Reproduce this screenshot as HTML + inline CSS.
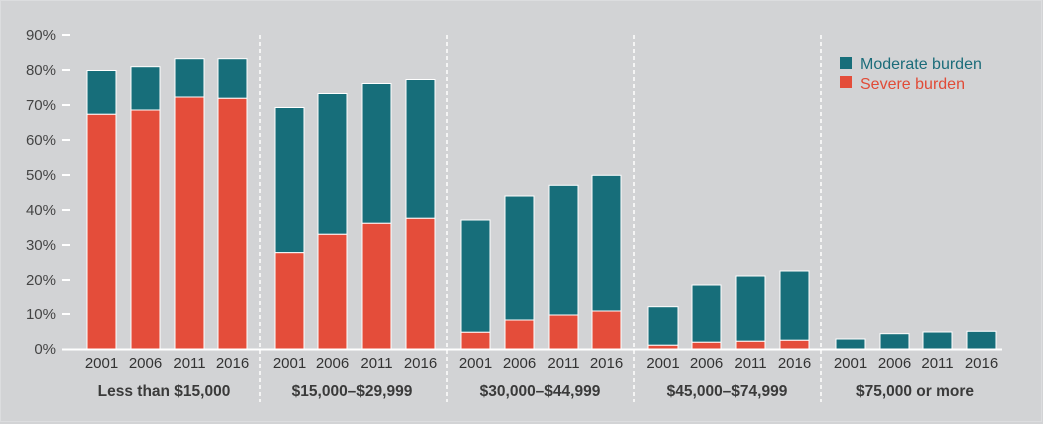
<!DOCTYPE html>
<html>
<head>
<meta charset="utf-8">
<style>
html,body{margin:0;padding:0;background:#d2d3d5;}
svg{display:block;}
text{font-family:"Liberation Sans",sans-serif;}
</style>
</head>
<body>
<svg width="1043" height="424" viewBox="0 0 1043 424" xmlns="http://www.w3.org/2000/svg">
<rect x="0" y="0" width="1043" height="424" fill="#d2d3d5"/>
<rect x="0.5" y="0.5" width="1041" height="421" fill="none" stroke="#dcdddf" stroke-width="1"/>

<!-- y axis labels -->
<g font-size="15" fill="#444" text-anchor="end">
<text x="56" y="40">90%</text>
<text x="56" y="75">80%</text>
<text x="56" y="110">70%</text>
<text x="56" y="145">60%</text>
<text x="56" y="180">50%</text>
<text x="56" y="215">40%</text>
<text x="56" y="250">30%</text>
<text x="56" y="285">20%</text>
<text x="56" y="319">10%</text>
<text x="56" y="354">0%</text>
</g>
<g stroke="#fff" stroke-width="2">
<line x1="62" y1="35" x2="70" y2="35"/>
<line x1="62" y1="70" x2="70" y2="70"/>
<line x1="62" y1="105" x2="70" y2="105"/>
<line x1="62" y1="140" x2="70" y2="140"/>
<line x1="62" y1="175" x2="70" y2="175"/>
<line x1="62" y1="210" x2="70" y2="210"/>
<line x1="62" y1="245" x2="70" y2="245"/>
<line x1="62" y1="280" x2="70" y2="280"/>
<line x1="62" y1="314" x2="70" y2="314"/>
</g>

<!-- dividers -->
<g stroke="#fff" stroke-width="1.5" stroke-dasharray="4,3">
<line x1="260" y1="35" x2="260" y2="402"/>
<line x1="447" y1="35" x2="447" y2="402"/>
<line x1="634" y1="35" x2="634" y2="402"/>
<line x1="821" y1="35" x2="821" y2="402"/>
</g>

<!-- bars -->
<g stroke="#fff" stroke-width="1">
<rect x="87" y="70.5" width="29" height="43.8" fill="#176e7a"/>
<rect x="87" y="114.3" width="29" height="234.7" fill="#e44d3a"/>
<rect x="131" y="66.7" width="29" height="43.3" fill="#176e7a"/>
<rect x="131" y="110" width="29" height="239" fill="#e44d3a"/>
<rect x="175" y="58.7" width="29" height="38.3" fill="#176e7a"/>
<rect x="175" y="97" width="29" height="252" fill="#e44d3a"/>
<rect x="218" y="58.7" width="29" height="39.6" fill="#176e7a"/>
<rect x="218" y="98.3" width="29" height="250.7" fill="#e44d3a"/>

<rect x="275" y="107.5" width="29" height="145.2" fill="#176e7a"/>
<rect x="275" y="252.7" width="29" height="96.3" fill="#e44d3a"/>
<rect x="318" y="93.5" width="29" height="140.8" fill="#176e7a"/>
<rect x="318" y="234.3" width="29" height="114.7" fill="#e44d3a"/>
<rect x="362" y="83.5" width="29" height="139.8" fill="#176e7a"/>
<rect x="362" y="223.3" width="29" height="125.7" fill="#e44d3a"/>
<rect x="406" y="79.5" width="29" height="138.8" fill="#176e7a"/>
<rect x="406" y="218.3" width="29" height="130.7" fill="#e44d3a"/>

<rect x="461" y="220" width="29" height="112.3" fill="#176e7a"/>
<rect x="461" y="332.3" width="29" height="16.7" fill="#e44d3a"/>
<rect x="505" y="196" width="29" height="124" fill="#176e7a"/>
<rect x="505" y="320" width="29" height="29" fill="#e44d3a"/>
<rect x="549" y="185.3" width="29" height="129.7" fill="#176e7a"/>
<rect x="549" y="315" width="29" height="34" fill="#e44d3a"/>
<rect x="592" y="175.3" width="29" height="135.7" fill="#176e7a"/>
<rect x="592" y="311" width="29" height="38" fill="#e44d3a"/>

<rect x="648" y="306.7" width="30" height="38.6" fill="#176e7a"/>
<rect x="648" y="345.3" width="30" height="3.7" fill="#e44d3a"/>
<rect x="692" y="285" width="29" height="57.3" fill="#176e7a"/>
<rect x="692" y="342.3" width="29" height="6.7" fill="#e44d3a"/>
<rect x="736" y="276" width="29" height="65.3" fill="#176e7a"/>
<rect x="736" y="341.3" width="29" height="7.7" fill="#e44d3a"/>
<rect x="780" y="271" width="29" height="69.3" fill="#176e7a"/>
<rect x="780" y="340.3" width="29" height="8.7" fill="#e44d3a"/>

<rect x="836" y="339" width="29" height="10" fill="#176e7a"/>
<rect x="880" y="333.7" width="29" height="15.3" fill="#176e7a"/>
<rect x="923" y="332" width="29" height="17" fill="#176e7a"/>
<rect x="967" y="331.3" width="29" height="17.7" fill="#176e7a"/>
</g>

<!-- axis line -->
<line x1="62" y1="349.5" x2="1002" y2="349.5" stroke="#fff" stroke-width="2"/>

<!-- year labels -->
<g font-size="15" fill="#333" text-anchor="middle">
<text x="101.5" y="368">2001</text>
<text x="145.5" y="368">2006</text>
<text x="189.5" y="368">2011</text>
<text x="232.5" y="368">2016</text>
<text x="289.5" y="368">2001</text>
<text x="332.5" y="368">2006</text>
<text x="376.5" y="368">2011</text>
<text x="420.5" y="368">2016</text>
<text x="475.5" y="368">2001</text>
<text x="519.5" y="368">2006</text>
<text x="563.5" y="368">2011</text>
<text x="606.5" y="368">2016</text>
<text x="663" y="368">2001</text>
<text x="706.5" y="368">2006</text>
<text x="750.5" y="368">2011</text>
<text x="794.5" y="368">2016</text>
<text x="850.5" y="368">2001</text>
<text x="894.5" y="368">2006</text>
<text x="937.5" y="368">2011</text>
<text x="981.5" y="368">2016</text>
</g>

<!-- group labels -->
<g font-size="15.5" font-weight="bold" fill="#3a3a3a" text-anchor="middle">
<text x="164" y="396">Less than $15,000</text>
<text x="352" y="396">$15,000–$29,999</text>
<text x="540" y="396">$30,000–$44,999</text>
<text x="727" y="396">$45,000–$74,999</text>
<text x="915" y="396">$75,000 or more</text>
</g>

<!-- legend -->
<rect x="840" y="57" width="12" height="12" fill="#176e7a"/>
<text x="860" y="69" font-size="16" fill="#1b6c7a">Moderate burden</text>
<rect x="840" y="76" width="12" height="12" fill="#e44d3a"/>
<text x="860" y="89" font-size="16" fill="#e14b37">Severe burden</text>
</svg>
</body>
</html>
